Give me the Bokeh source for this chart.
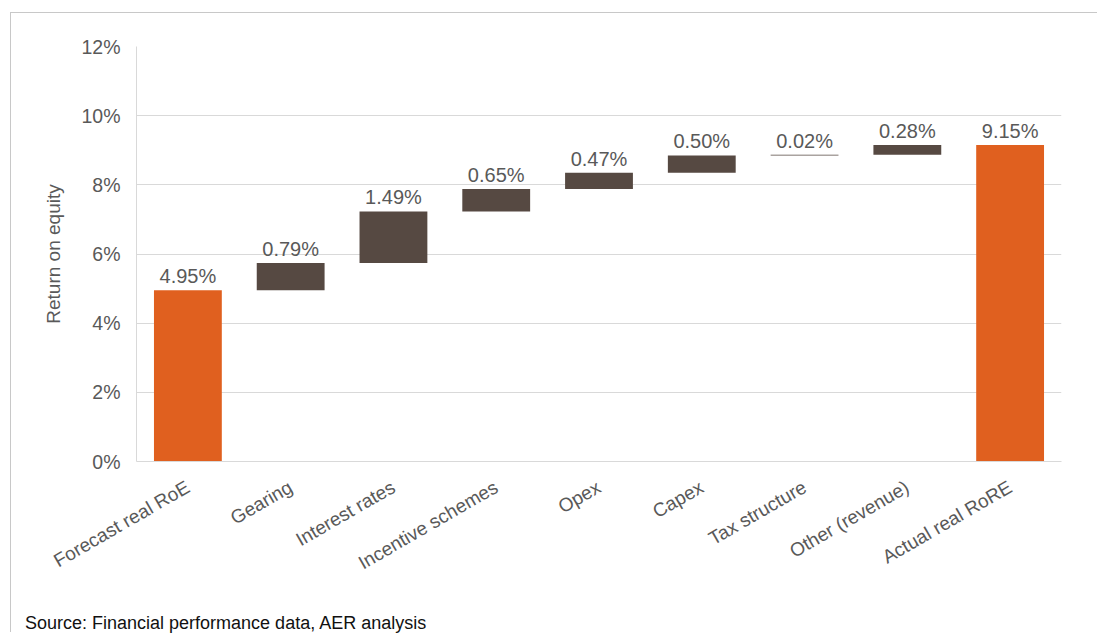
import math
from bokeh.plotting import figure
from bokeh.layouts import column
from bokeh.models import ColumnDataSource, Div, PrintfTickFormatter, FixedTicker, Range1d, FactorRange
from bokeh.embed import file_html
from bokeh.resources import INLINE
from bokeh.core.properties import value

categories = ["Forecast real RoE", "Gearing", "Interest rates", "Incentive schemes",
              "Opex", "Capex", "Tax structure", "Other (revenue)", "Actual real RoRE"]
amounts = [4.95, 0.79, 1.49, 0.65, 0.47, 0.50, 0.02, 0.28, 9.15]
kinds = ["total", "delta", "delta", "delta", "delta", "delta", "delta", "delta", "total"]
y_ticks = [0, 2, 4, 6, 8, 10, 12]
source_note = "Source: Financial performance data, AER analysis"
y_title = "Return on equity"

ORANGE = "#E0601F"
BROWN = "#564942"
GREY_TEXT = "#595959"
GRID = "#d9d9d9"
FRAME = "#c8c8c8"
FONT = "Liberation Sans"

bottoms, tops, colors, labels = [], [], [], []
running = 0.0
for a, k in zip(amounts, kinds):
    if k == "total":
        bottoms.append(0.0)
        tops.append(a)
        running = a
        colors.append(ORANGE)
    else:
        bottoms.append(running)
        running += a
        tops.append(running)
        colors.append(BROWN)
    labels.append(f"{a:.2f}%")

src = ColumnDataSource(dict(cat=categories, bottom=bottoms, top=tops, color=colors, label=labels))

p = figure(width=1087, height=590, x_range=FactorRange(*categories), y_range=Range1d(0, 12),
           output_backend="svg", toolbar_location=None,
           min_border_left=125, min_border_right=37, min_border_top=33, min_border_bottom=142)
p.margin = (12, 0, 0, 10)
p.styles = {"border-left": f"1px solid {FRAME}", "border-top": f"1px solid {FRAME}"}
p.outline_line_color = None
p.background_fill_color = "white"
p.border_fill_color = "white"

p.vbar(x="cat", bottom="bottom", top="top", width=0.66, fill_color="color",
       line_color=None, source=src)
p.text(x="cat", y="top", text="label", source=src, text_align="center", text_baseline="bottom",
       y_offset=-3, text_color=GREY_TEXT, text_font=value(FONT), text_font_size="20px")

p.xgrid.grid_line_color = None
p.ygrid.grid_line_color = GRID
p.ygrid.ticker = FixedTicker(ticks=y_ticks)

p.yaxis.ticker = FixedTicker(ticks=y_ticks)
p.yaxis.formatter = PrintfTickFormatter(format="%d%%")
p.yaxis.axis_line_color = GRID
p.yaxis.major_tick_line_color = None
p.yaxis.minor_tick_line_color = None
p.yaxis.major_label_text_font = FONT
p.yaxis.major_label_text_font_size = "19.5px"
p.yaxis.major_label_text_color = GREY_TEXT
p.yaxis.major_label_standoff = 10
p.yaxis.axis_label = y_title
p.yaxis.axis_label_text_font = FONT
p.yaxis.axis_label_text_font_size = "19px"
p.yaxis.axis_label_text_font_style = "normal"
p.yaxis.axis_label_text_color = GREY_TEXT
p.yaxis.axis_label_standoff = 14

p.xaxis.axis_line_color = GRID
p.xaxis.major_tick_line_color = None
p.xaxis.minor_tick_line_color = None
p.xaxis.major_label_orientation = math.pi / 6
p.xaxis.major_label_text_font = FONT
p.xaxis.major_label_text_font_size = "19px"
p.xaxis.major_label_text_color = GREY_TEXT
p.xaxis.major_label_standoff = 18

note = Div(text=source_note, width=1087, height=30, margin=(0, 0, 0, 10),
           styles={"border-left": f"1px solid {FRAME}", "font-family": FONT,
                   "font-size": "18px", "color": "#111111", "padding-left": "14px",
                   "padding-top": "9px", "box-sizing": "border-box", "background": "white"})

layout = column(p, note, spacing=0)

open("out.html", "w").write(file_html(layout, INLINE))
